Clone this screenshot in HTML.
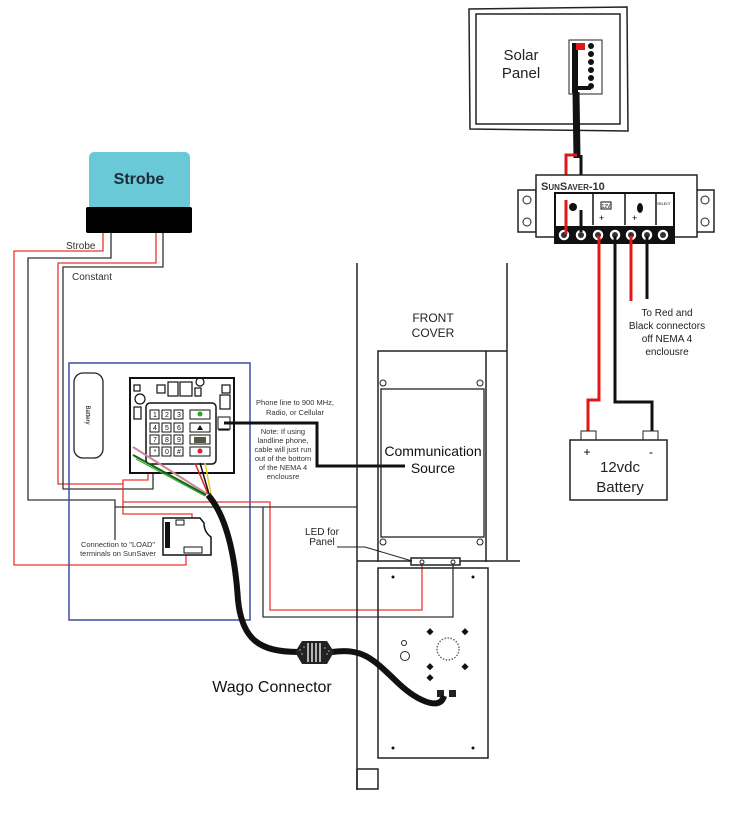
<!DOCTYPE html>
<html><head><meta charset="utf-8"><style>
html,body{margin:0;padding:0;background:#fff;}
svg{display:block;font-family:"Liberation Sans",sans-serif;}
</style></head><body>
<svg width="729" height="813" viewBox="0 0 729 813" xmlns="http://www.w3.org/2000/svg">
<!-- Solar panel -->
<polygon points="469,9 627,7 628,131 470,129" fill="#fff" stroke="#222" stroke-width="1.5"/>
<rect x="476" y="14" width="144" height="110" fill="none" stroke="#222" stroke-width="1.5"/>
<text x="521" y="60" font-size="15" text-anchor="middle" fill="#222">Solar</text>
<text x="521" y="78" font-size="15" text-anchor="middle" fill="#222">Panel</text>
<rect x="569" y="40" width="33" height="54" fill="#fff" stroke="#222" stroke-width="1"/>
<rect x="572" y="43" width="6" height="50" fill="#111"/>
<rect x="576" y="43" width="9" height="7" fill="#e01818"/>
<g fill="#111"><circle cx="591" cy="46" r="3"/><circle cx="591" cy="54" r="3"/><circle cx="591" cy="62" r="3"/><circle cx="591" cy="70" r="3"/><circle cx="591" cy="78" r="3"/><circle cx="591" cy="86" r="3"/></g>
<line x1="578" y1="88" x2="591" y2="88" stroke="#111" stroke-width="4"/>
<line x1="576" y1="92" x2="577" y2="158" stroke="#111" stroke-width="7"/>
<polyline points="566,234 566,155 577,155" fill="none" stroke="#e01818" stroke-width="3"/>
<line x1="581" y1="155" x2="581" y2="234" stroke="#111" stroke-width="3"/>
<!-- SunSaver -->
<rect x="518" y="190" width="18" height="42" fill="#fff" stroke="#222" stroke-width="1.5"/>
<circle cx="527" cy="200" r="4" fill="none" stroke="#222"/><circle cx="527" cy="222" r="4" fill="none" stroke="#222"/>
<rect x="696" y="190" width="18" height="42" fill="#fff" stroke="#222" stroke-width="1.5"/>
<circle cx="705" cy="200" r="4" fill="none" stroke="#222"/><circle cx="705" cy="222" r="4" fill="none" stroke="#222"/>
<rect x="536" y="175" width="161" height="62" fill="#fff" stroke="#222" stroke-width="1.5"/>
<text x="541" y="190" font-size="11" font-weight="bold" fill="#333">S<tspan font-size="8">UN</tspan>S<tspan font-size="8">AVER</tspan>-10</text>
<rect x="555" y="193" width="119" height="50" fill="#fff" stroke="#111" stroke-width="2"/>
<line x1="593" y1="193" x2="593" y2="225" stroke="#111" stroke-width="1.5"/>
<line x1="625" y1="193" x2="625" y2="225" stroke="#111" stroke-width="1.5"/>
<line x1="656" y1="193" x2="656" y2="225" stroke="#111" stroke-width="1.5"/>
<circle cx="573" cy="207" r="4" fill="#111"/>
<rect x="601" y="202" width="10" height="7" fill="#fff" stroke="#111"/>
<text x="606" y="208" font-size="5" text-anchor="middle">12V</text>
<ellipse cx="640" cy="208" rx="3" ry="5" fill="#111"/>
<text x="599" y="221" font-size="9">+</text><text x="632" y="221" font-size="9">+</text>
<text x="664" y="205" font-size="3.5" text-anchor="middle">SELECT</text>
<rect x="556" y="226" width="117" height="17" fill="#111"/>
<g fill="#fff" stroke="#111" stroke-width="1.5">
<circle cx="564" cy="235" r="6"/><circle cx="581" cy="235" r="6"/><circle cx="598" cy="235" r="6"/><circle cx="615" cy="235" r="6"/><circle cx="631" cy="235" r="6"/><circle cx="647" cy="235" r="6"/><circle cx="663" cy="235" r="6"/></g>
<g fill="#333"><circle cx="564" cy="235" r="3"/><circle cx="581" cy="235" r="3"/><circle cx="598" cy="235" r="3"/><circle cx="615" cy="235" r="3"/><circle cx="631" cy="235" r="3"/><circle cx="647" cy="235" r="3"/><circle cx="663" cy="235" r="3"/></g>
<line x1="566" y1="200" x2="566" y2="234" stroke="#e01818" stroke-width="3"/>
<line x1="581" y1="210" x2="581" y2="232" stroke="#111" stroke-width="3"/>
<polyline points="599,236 599,400 588,400 588,433" fill="none" stroke="#e01818" stroke-width="3"/>
<polyline points="615,236 615,402 652,402 652,433" fill="none" stroke="#111" stroke-width="3"/>
<line x1="631" y1="236" x2="631" y2="301" stroke="#e01818" stroke-width="3"/>
<line x1="647" y1="236" x2="647" y2="299" stroke="#111" stroke-width="3"/>
<g font-size="10" fill="#222" text-anchor="middle">
<text x="667" y="316">To Red and</text><text x="667" y="329">Black connectors</text><text x="667" y="342">off NEMA 4</text><text x="667" y="355">enclousre</text></g>
<!-- Battery -->
<rect x="581" y="431" width="15" height="9" fill="#fff" stroke="#222"/>
<rect x="643" y="431" width="15" height="9" fill="#fff" stroke="#222"/>
<rect x="570" y="440" width="97" height="60" fill="#fff" stroke="#222" stroke-width="1.5"/>
<text x="587" y="456" font-size="12" text-anchor="middle">+</text>
<text x="651" y="456" font-size="12" text-anchor="middle">-</text>
<text x="620" y="472" font-size="15" text-anchor="middle" fill="#222">12vdc</text>
<text x="620" y="492" font-size="15" text-anchor="middle" fill="#222">Battery</text>
<!-- Strobe -->
<rect x="89" y="152" width="101" height="58" rx="5" fill="#6ac9d6"/>
<text x="139" y="184" font-size="16" font-weight="bold" text-anchor="middle" fill="#1c2a3a">Strobe</text>
<rect x="86" y="207" width="106" height="26" rx="2" fill="#000"/>
<polyline points="103,233 103,251 14,251 14,565 186,565 186,553" fill="none" stroke="#e33" stroke-width="1.3"/>
<polyline points="111,233 111,258 28,258 28,500 115,500 115,540" fill="none" stroke="#333" stroke-width="1.3"/>
<polyline points="156,233 156,263 58,263 58,484 123,484 123,480 148,480 148,470" fill="none" stroke="#e33" stroke-width="1.3"/>
<polyline points="163,233 163,267 63,267 63,489 153,489 153,472" fill="none" stroke="#333" stroke-width="1.3"/>
<text x="66" y="249" font-size="10" fill="#333">Strobe</text>
<text x="72" y="280" font-size="10" fill="#333">Constant</text>
<!-- Blue box -->
<rect x="69" y="363" width="181" height="257" fill="none" stroke="#3a4fa3" stroke-width="1.5"/>
<rect x="74" y="373" width="29" height="85" rx="9" fill="#fff" stroke="#222" stroke-width="1.3"/>
<text x="86" y="415" font-size="6" text-anchor="middle" transform="rotate(90 86 415)">Battery</text>
<!-- board -->
<rect x="130" y="378" width="104" height="95" fill="#fff" stroke="#111" stroke-width="2"/>
<g fill="none" stroke="#111" stroke-width="1.2">
<rect x="157" y="385" width="8" height="8"/><rect x="168" y="382" width="10" height="14"/><rect x="180" y="382" width="12" height="14"/><rect x="195" y="388" width="6" height="8"/>
<circle cx="200" cy="382" r="4"/><circle cx="140" cy="399" r="5"/><rect x="134" y="385" width="6" height="6"/><rect x="222" y="385" width="8" height="8"/><rect x="220" y="395" width="10" height="14"/>
<rect x="219" y="420" width="10" height="10"/><rect x="134" y="407" width="7" height="12"/>
</g>
<rect x="146" y="403" width="70" height="61" rx="4" fill="#fff" stroke="#111" stroke-width="1.5"/>
<g font-size="7" text-anchor="middle" fill="#111">
<g fill="#fff" stroke="#111"><rect x="150" y="410" width="9" height="9"/><rect x="162" y="410" width="9" height="9"/><rect x="174" y="410" width="9" height="9"/><rect x="190" y="410" width="20" height="9"/>
<rect x="150" y="423" width="9" height="9"/><rect x="162" y="423" width="9" height="9"/><rect x="174" y="423" width="9" height="9"/><rect x="190" y="423" width="20" height="9"/>
<rect x="150" y="435" width="9" height="9"/><rect x="162" y="435" width="9" height="9"/><rect x="174" y="435" width="9" height="9"/><rect x="190" y="435" width="20" height="9"/>
<rect x="150" y="447" width="9" height="9"/><rect x="162" y="447" width="9" height="9"/><rect x="174" y="447" width="9" height="9"/><rect x="190" y="447" width="20" height="9"/></g>
<text x="155" y="417">1</text><text x="167" y="417">2</text><text x="179" y="417">3</text>
<text x="155" y="430">4</text><text x="167" y="430">5</text><text x="179" y="430">6</text>
<text x="155" y="442">7</text><text x="167" y="442">8</text><text x="179" y="442">9</text>
<text x="155" y="454">*</text><text x="167" y="454">0</text><text x="179" y="454">#</text>
<circle cx="200" cy="414" r="2.5" fill="#2a2"/><polygon points="197,430 200,425 203,430" fill="#111"/><rect x="194" y="437" width="12" height="6" fill="#554"/><circle cx="200" cy="451" r="2.5" fill="#d22"/></g>
<rect x="218" y="417" width="12" height="12" fill="#fff" stroke="#111"/>
<polyline points="224,423 317,423 317,466 405,466" fill="none" stroke="#111" stroke-width="3"/>
<g font-size="7.5" fill="#333" text-anchor="middle">
<text x="295" y="405">Phone line to 900 MHz,</text><text x="295" y="415">Radio, or Cellular</text>
<text x="283" y="434">Note: If using</text><text x="283" y="443">landline phone,</text><text x="283" y="452">cable will just run</text><text x="283" y="461">out of the bottom</text><text x="283" y="470">of the NEMA 4</text><text x="283" y="479">enclousre</text></g>
<line x1="133" y1="447" x2="207" y2="494" stroke="#c89" stroke-width="2"/>
<line x1="133" y1="455" x2="206" y2="495" stroke="#161" stroke-width="2"/>
<line x1="136" y1="459" x2="205" y2="496" stroke="#3a3" stroke-width="1"/>
<line x1="195" y1="463" x2="208" y2="494" stroke="#d22" stroke-width="1.5"/>
<line x1="200" y1="463" x2="209" y2="494" stroke="#111" stroke-width="1.5"/>
<line x1="205" y1="463" x2="211" y2="494" stroke="#ec2" stroke-width="1.5"/>
<polyline points="123,484 123,514 192,514 192,551" fill="none" stroke="#e33" stroke-width="1.3"/>
<polyline points="123,502 270,502 270,610 422,610 422,563" fill="none" stroke="#e33" stroke-width="1.3"/>
<polyline points="115,507 263,507 263,617 453,617 453,563" fill="none" stroke="#333" stroke-width="1.3"/>
<line x1="263" y1="507" x2="357" y2="507" stroke="#333" stroke-width="1.3"/>
<path d="M163,518 H200 L204,523 Q204,532 211,537 V555 H163 Z" fill="#fff" stroke="#111" stroke-width="1.5"/>
<rect x="176" y="520" width="8" height="5" fill="#fff" stroke="#111"/>
<rect x="165" y="522" width="5" height="26" fill="#111"/>
<rect x="184" y="547" width="18" height="6" fill="#fff" stroke="#111"/>
<g font-size="7.5" fill="#333" text-anchor="middle"><text x="118" y="547">Connection to "LOAD"</text><text x="118" y="556">terminals on SunSaver</text></g>
<!-- enclosure -->
<g stroke="#222" fill="none" stroke-width="1.5">
<line x1="357" y1="263" x2="357" y2="790"/>
<line x1="507" y1="263" x2="507" y2="560"/>
<polyline points="378,562 378,351 507,351"/>
<line x1="486" y1="351" x2="486" y2="562"/>
<rect x="381" y="389" width="103" height="148" stroke-width="1.3"/>
<line x1="357" y1="561" x2="520" y2="561"/>
<rect x="378" y="568" width="110" height="190"/>
<rect x="357" y="769" width="21" height="20"/>
<rect x="411" y="558" width="49" height="7" fill="#fff"/>
</g>
<g fill="#fff" stroke="#222"><circle cx="383" cy="383" r="3"/><circle cx="480" cy="383" r="3"/><circle cx="383" cy="542" r="3"/><circle cx="480" cy="542" r="3"/><circle cx="422" cy="562" r="2"/><circle cx="453" cy="562" r="2"/></g>
<text x="433" y="322" font-size="12" text-anchor="middle" fill="#222">FRONT</text>
<text x="433" y="337" font-size="12" text-anchor="middle" fill="#222">COVER</text>
<text x="433" y="456" font-size="14" text-anchor="middle" fill="#111">Communication</text>
<text x="433" y="473" font-size="14" text-anchor="middle" fill="#111">Source</text>
<text x="322" y="535" font-size="10" text-anchor="middle" fill="#222">LED for</text>
<text x="322" y="545" font-size="10" text-anchor="middle" fill="#222">Panel</text>
<polyline points="337,547 365,547 412,561" fill="none" stroke="#222"/>
<g fill="#111"><circle cx="393" cy="577" r="1.5"/><circle cx="473" cy="577" r="1.5"/><circle cx="393" cy="748" r="1.5"/><circle cx="473" cy="748" r="1.5"/></g>
<circle cx="404" cy="643" r="2.5" fill="none" stroke="#222"/><circle cx="405" cy="656" r="4.5" fill="none" stroke="#222"/>
<g fill="#111"><rect x="428" y="629" width="5" height="5" transform="rotate(45 430 631)"/><rect x="463" y="629" width="5" height="5" transform="rotate(45 465 631)"/><rect x="428" y="664" width="5" height="5" transform="rotate(45 430 666)"/><rect x="463" y="664" width="5" height="5" transform="rotate(45 465 666)"/><rect x="428" y="675" width="5" height="5" transform="rotate(45 430 677)"/></g>
<circle cx="448" cy="649" r="11" fill="none" stroke="#666" stroke-width="1.5" stroke-dasharray="1.5 1.5"/>
<rect x="437" y="690" width="7" height="7" fill="#222"/><rect x="449" y="690" width="7" height="7" fill="#222"/>
<!-- black cable -->
<path d="M208,495 C230,520 236,570 238,600 C242,640 260,652 298,652" fill="none" stroke="#111" stroke-width="6"/>
<path d="M332,652 C362,648 372,658 395,680 C415,700 440,712 444,696" fill="none" stroke="#111" stroke-width="6"/>
<path d="M295,652 L302,641 H327 L334,652 L327,664 H302 Z" fill="#222"/>
<g stroke="#fff" stroke-width="1.3"><line x1="308" y1="643" x2="308" y2="662"/><line x1="312" y1="643" x2="312" y2="662"/><line x1="316" y1="643" x2="316" y2="662"/><line x1="320" y1="643" x2="320" y2="662"/></g>
<g fill="#fff"><circle cx="300" cy="650" r="0.6"/><circle cx="302" cy="654" r="0.6"/><circle cx="304" cy="647" r="0.6"/><circle cx="325" cy="648" r="0.6"/><circle cx="327" cy="654" r="0.6"/><circle cx="329" cy="651" r="0.6"/></g>
<text x="272" y="692" font-size="16" text-anchor="middle" fill="#111">Wago Connector</text>
</svg>
</body></html>
